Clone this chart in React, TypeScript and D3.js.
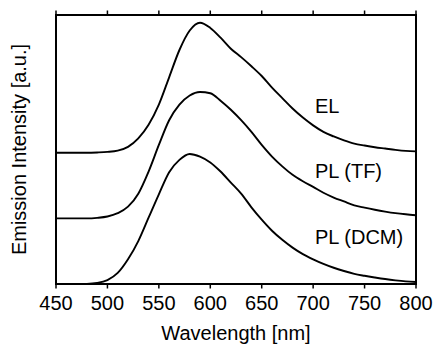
import React from "react";
import * as d3 from "d3";

const wavelengths = [450,460,470,480,490,500,510,520,530,540,550,560,570,580,590,600,610,620,630,640,650,660,670,680,690,700,710,720,730,740,750,760,770,780,790,800];
const elValues = [0,0,0,0,0.002,0.006,0.016,0.045,0.11,0.215,0.37,0.58,0.79,0.94,1.0,0.96,0.885,0.8,0.735,0.665,0.59,0.5,0.42,0.34,0.27,0.21,0.16,0.125,0.095,0.07,0.055,0.042,0.032,0.022,0.014,0.01];
const plTfValues = [0,0,0,0,0.004,0.014,0.04,0.09,0.19,0.36,0.565,0.755,0.875,0.945,0.972,0.962,0.905,0.835,0.755,0.665,0.565,0.475,0.4,0.335,0.285,0.242,0.197,0.16,0.13,0.1,0.082,0.066,0.052,0.04,0.031,0.024];
const plDcmValues = [0,0,0,0.001,0.008,0.03,0.085,0.19,0.33,0.51,0.69,0.86,0.955,1.0,0.98,0.935,0.865,0.78,0.695,0.59,0.495,0.41,0.34,0.28,0.23,0.19,0.155,0.125,0.1,0.078,0.063,0.05,0.038,0.028,0.02,0.015];
const seriesNames = ["EL", "PL (TF)", "PL (DCM)"];
const seriesOffsets = [1.01, 0.505, 0];
const xTicks = [450,500,550,600,650,700,750,800];

const W = 433, H = 346;
const L = 56, R = 416, T = 15, B = 284;
const FONT = "'Liberation Sans', Arial, Helvetica, sans-serif";

export default function App() {
  const x = d3.scaleLinear().domain([450, 800]).range([L, R]);
  const y = d3.scaleLinear().domain([0, (B - T) / 130]).range([B, T]);
  const all = [elValues, plTfValues, plDcmValues];
  const line = d3.line<[number, number]>().x(d => x(d[0])).y(d => y(d[1])).curve(d3.curveMonotoneX);
  return (
    <svg width={W} height={H} style={{ position: "absolute", left: 0, top: 0, background: "#fff" }} fontFamily={FONT}>
      <rect x={0} y={0} width={W} height={H} fill="#fff" />
      {all.map((vals, i) => (
        <path key={i} d={line(wavelengths.map((w, j) => [w, vals[j] + seriesOffsets[i]]) as [number, number][]) || ""}
          fill="none" stroke="#000" strokeWidth={1.9} strokeLinejoin="round" />
      ))}
      <rect x={L} y={T} width={R - L} height={B - T} fill="none" stroke="#000" strokeWidth={2} />
      {xTicks.map(t => (
        <g key={t}>
          <line x1={x(t)} x2={x(t)} y1={T} y2={T - 4.5} stroke="#000" strokeWidth={1.5} />
          <line x1={x(t)} x2={x(t)} y1={B} y2={B + 4.5} stroke="#000" strokeWidth={1.5} />
          <text x={x(t)} y={309.5} textAnchor="middle" fontSize={20} fill="#000">{t}</text>
        </g>
      ))}
      {seriesNames.map((n, i) => (
        <text key={n} x={315} y={[112.6, 177.6, 243.6][i]} fontSize={20} fill="#000">{n}</text>
      ))}
      <text x={(L + R) / 2} y={340} textAnchor="middle" fontSize={20} fill="#000">Wavelength [nm]</text>
      <text transform={`translate(25.5,${(T + B) / 2}) rotate(-90)`} textAnchor="middle" fontSize={20} fill="#000">Emission Intensity [a.u.]</text>
    </svg>
  );
}
